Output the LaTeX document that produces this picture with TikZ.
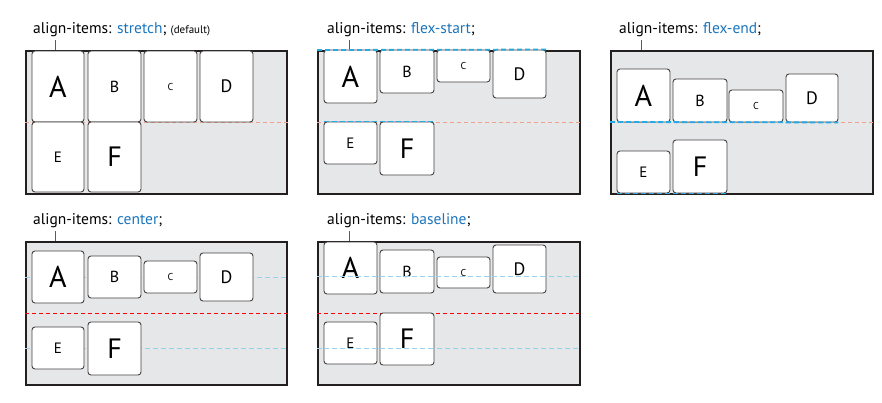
\documentclass[tikz,border=0pt]{standalone}
\usepackage{fontspec}
\setmainfont{PT Sans}
\definecolor{boxgray}{RGB}{230,231,232}
\definecolor{edgegray}{RGB}{35,31,32}
\definecolor{cssblue}{RGB}{28,117,188}
\definecolor{hotline}{RGB}{236,28,36}
\definecolor{marksalmon}{RGB}{242,160,140}
\definecolor{markcyan}{RGB}{39,170,225}
\definecolor{marksky}{RGB}{150,210,238}

\tikzset{
  container/.style={draw=edgegray, line width=2pt, fill=boxgray, anchor=north west, inner sep=0pt},
  item/.style={draw=edgegray!85, line width=0.9pt, fill=white, rounded corners=3pt, inner sep=0pt},
  caption/.style={anchor=base west, inner sep=0pt, font=\fontsize{15.5}{15.5}\selectfont},
  tickline/.style={draw=hotline, line width=1pt},
  redguide/.style={draw=red, line width=1pt, dash pattern=on 4pt off 3pt},
  paleguide/.style={draw=marksalmon, line width=0.8pt, dash pattern=on 4pt off 3pt},
  skyguide/.style={draw=marksky, line width=0.9pt, dash pattern=on 5pt off 3pt},
  cyanguide/.style={draw=markcyan, line width=1.8pt, dash pattern=on 5pt off 3pt}
}

% name, x1, y1, x2, y2, font size, letter
\newcommand{\flexitem}[7]{%
  \node[item, minimum width={(#4-#2)*1pt}, minimum height={(#5-#3)*1pt},
        font=\fontsize{#6}{#6}\selectfont] (#1) at ({(#2+#4)/2},{(#3+#5)/2}) {#7};
}

\begin{document}
\begin{tikzpicture}[x=1pt, y=-1pt]
\useasboundingbox (0,0) rectangle (882,402);

% containers
\node[container, minimum width=261pt, minimum height=143pt] (c1) at (25,50) {};
\node[container, minimum width=262pt, minimum height=143pt] (c2) at (317,50) {};
\node[container, minimum width=262pt, minimum height=143pt] (c3) at (610,50) {};
\node[container, minimum width=261pt, minimum height=143pt] (c4) at (25,241) {};
\node[container, minimum width=262pt, minimum height=143pt] (c5) at (317,241) {};

% captions
\node[caption] (t1) at (33,33) {align-items: \textcolor{cssblue}{stretch}; {\fontsize{11}{11}\selectfont (default)}};
\node[caption] (t2) at (327,33) {align-items: \textcolor{cssblue}{flex-start};};
\node[caption] (t3) at (619,33) {align-items: \textcolor{cssblue}{flex-end};};
\node[caption] (t4) at (33,224) {align-items: \textcolor{cssblue}{center};};
\node[caption] (t5) at (327,224) {align-items: \textcolor{cssblue}{baseline};};

\coordinate (k1) at (55,40);
\coordinate (k2) at (349,40);
\coordinate (k3) at (641,40);
\coordinate (k4) at (55,231);
\coordinate (k5) at (349,231);
\foreach \i in {1,...,5}{
  \draw[tickline] (k\i) -- (k\i |- c\i.north);
}

% guides behind the items
\draw[paleguide] (c1.west |- 0,122) -- (c1.east |- 0,122);
\draw[paleguide] (c2.west |- 0,122) -- (c2.east |- 0,122);
\draw[paleguide] (c3.west |- 0,122) -- (c3.east |- 0,122);
\draw[skyguide] (c4.west |- 0,277) -- (c4.east |- 0,277);
\draw[redguide] (c4.west |- 0,313) -- (c4.east |- 0,313);
\draw[skyguide] (c4.west |- 0,348) -- (c4.east |- 0,348);
\draw[skyguide] (c5.west |- 0,276) -- (c5.east |- 0,276);
\draw[redguide] (c5.west |- 0,313) -- (c5.east |- 0,313);
\draw[skyguide] (c5.west |- 0,348) -- (c5.east |- 0,348);

% stretch
\flexitem{a1}{32}{51}{84}{122}{30}{A}
\flexitem{b1}{88}{51}{141}{122}{16}{B}
\flexitem{cc1}{144}{51}{197}{122}{10}{C}
\flexitem{d1}{200}{51}{253}{122}{18}{D}
\flexitem{e1}{32}{122}{84}{192}{15}{E}
\flexitem{f1}{88}{122}{141}{192}{28}{F}

% flex-start
\flexitem{a2}{324}{50}{377}{103}{30}{A}
\flexitem{b2}{380}{50}{434}{93}{16}{B}
\flexitem{cc2}{437}{50}{490}{82}{10}{C}
\flexitem{d2}{493}{50}{546}{98}{18}{D}
\flexitem{e2}{324}{122}{377}{164}{15}{E}
\flexitem{f2}{380}{122}{434}{175}{28}{F}

% flex-end
\flexitem{a3}{617}{69}{670}{122}{30}{A}
\flexitem{b3}{673}{79}{727}{122}{16}{B}
\flexitem{cc3}{729}{90}{783}{122}{10}{C}
\flexitem{d3}{786}{74}{838}{122}{18}{D}
\flexitem{e3}{617}{151}{670}{193}{15}{E}
\flexitem{f3}{673}{140}{727}{193}{28}{F}

% center
\flexitem{a4}{32}{251}{84}{303}{30}{A}
\flexitem{b4}{88}{256}{141}{298}{16}{B}
\flexitem{cc4}{144}{261}{197}{293}{10}{C}
\flexitem{d4}{200}{253}{253}{301}{18}{D}
\flexitem{e4}{32}{327}{84}{369}{15}{E}
\flexitem{f4}{88}{322}{141}{375}{28}{F}

% baseline
\flexitem{a5}{324}{242}{377}{294}{30}{A}
\flexitem{b5}{380}{250}{434}{293}{16}{B}
\flexitem{cc5}{437}{257}{490}{288}{10}{C}
\flexitem{d5}{493}{245}{546}{293}{18}{D}
\flexitem{e5}{324}{322}{377}{364}{15}{E}
\flexitem{f5}{380}{313}{434}{365}{28}{F}

% guides over the items
\draw[cyanguide] (c2.west |- 0,50) -- (d2.north east);
\draw[cyanguide] (e2.north west) -- (f2.north east);
\draw[cyanguide] (c3.west |- 0,122) -- (d3.south east);
\draw[cyanguide] (e3.south west) -- (f3.south east);
\draw[skyguide] (a5.west |- 0,276) -- (d5.east |- 0,276);
\draw[skyguide] (e5.west |- 0,348) -- (f5.east |- 0,348);

\end{tikzpicture}
\end{document}
